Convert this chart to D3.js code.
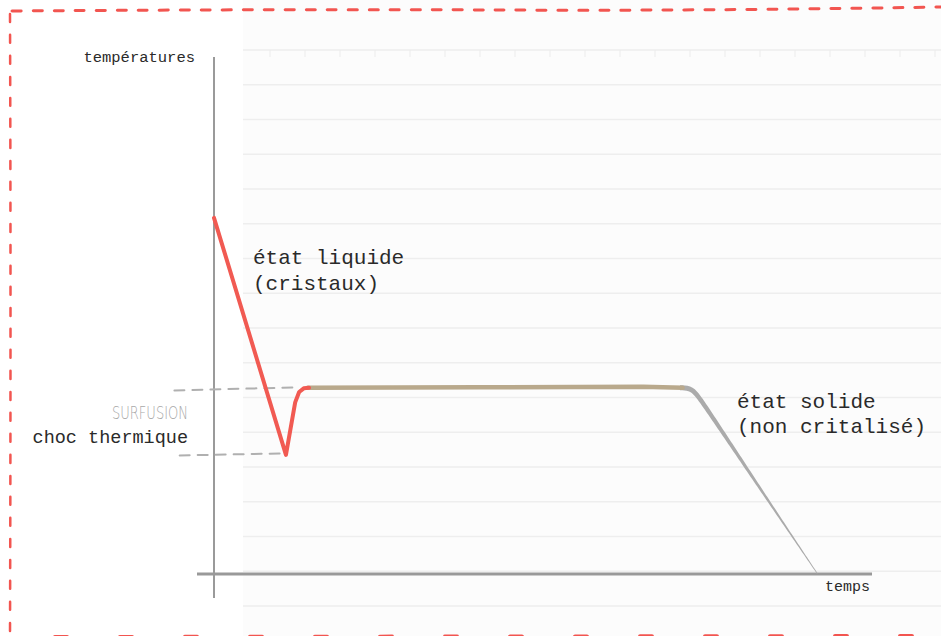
<!DOCTYPE html>
<html>
<head>
<meta charset="utf-8">
<script src="https://cdn.jsdelivr.net/npm/d3@7"></script>
<style>
  body { margin: 0; background: #fff; }
  svg { display: block; }
  .mono { font-family: "Liberation Mono", "Courier New", monospace; fill: #2a2a2a; }
</style>
</head>
<body>
<svg id="chart" width="941" height="636"></svg>
<script>
// curve segments (time, temperature) - arbitrary units
var liquide = [[0, 68.5], [10.9, 22.9], [12.3, 33.0], [12.9, 35.0], [13.6, 35.7], [14.4, 35.8]];
var palier = [[14.2, 35.8], [40, 35.9], [65, 36.0], [71.0, 35.8]];
var solide = [[70.6, 35.8], [72.4, 35.8], [73.8, 33.5], [82.7, 16.5], [91.4, 0.1]];
// dashed guides (left edge -> curve point)
var guides = [[-6, 35.3], [-5.2, 22.8]];
var guideEnds = [[12.7, 35.9], [10.5, 23.2]];

var svg = d3.select("#chart");
var W = 941, H = 636;

var x = d3.scaleLinear().domain([0, 100]).range([214, 874]);
var y = d3.scaleLinear().domain([0, 100]).range([574, 54]);

// paper background
svg.append("rect").attr("x", 243).attr("y", 0).attr("width", W - 243).attr("height", H)
    .attr("fill", "#fcfcfc");
svg.selectAll(".rule")
    .data(d3.range(50, H, 34.75))
    .join("line")
    .attr("class", "rule")
    .attr("x1", 243).attr("x2", W)
    .attr("y1", d => d).attr("y2", d => d)
    .attr("stroke", "#eeeeee").attr("stroke-width", 1.5);
// little perforation ticks on the top rule
svg.selectAll(".perf")
    .data(d3.range(270, W, 35))
    .join("line")
    .attr("class", "perf")
    .attr("x1", d => d).attr("x2", d => d).attr("y1", 50).attr("y2", 57)
    .attr("stroke", "#ececec").attr("stroke-width", 1);

// red dashed frame
var frame = svg.append("g").attr("fill", "none").attr("stroke", "#f25550")
    .attr("stroke-linecap", "round");
frame.append("path").attr("d", "M12,11 Q300,9 500,10 T941,7")
    .attr("stroke-width", 3).attr("stroke-dasharray", "9 12");
frame.append("path").attr("d", "M10,14 Q11,300 10,636")
    .attr("stroke-width", 2.5).attr("stroke-dasharray", "8 13");
frame.append("path").attr("d", "M55,637 L941,636")
    .attr("stroke-width", 4).attr("stroke-dasharray", "12 53");

// axes
svg.append("line").attr("x1", x(0)).attr("x2", x(0)).attr("y1", 57).attr("y2", 598)
    .attr("stroke", "#9a9a9a").attr("stroke-width", 2);
svg.append("line").attr("x1", 197).attr("x2", 872).attr("y1", y(0)).attr("y2", y(0))
    .attr("stroke", "#999").attr("stroke-width", 3);

// guide dashes
svg.selectAll(".guide")
    .data(guides)
    .join("line")
    .attr("class", "guide")
    .attr("x1", d => x(d[0])).attr("y1", d => y(d[1]))
    .attr("x2", (d, i) => x(guideEnds[i][0])).attr("y2", (d, i) => y(guideEnds[i][1]))
    .attr("stroke", "#b0b0b0").attr("stroke-width", 2)
    .attr("stroke-dasharray", "10 8").attr("stroke-linecap", "round");

var line = d3.line().x(d => x(d[0])).y(d => y(d[1]));

// solid state: tapered grey stroke, sampled from a b-spline through the points
var guidePath = svg.append("path").datum(solide)
    .attr("d", line.curve(d3.curveBasis)).attr("fill", "none").attr("stroke", "none");
line.curve(d3.curveLinear);
var node = guidePath.node(), total = node.getTotalLength();
var pts = d3.range(0, 1.0001, 0.01).map(function(t) {
    var p = node.getPointAtLength(t * total);
    return [p.x, p.y, t];
});
var w0 = 5, w1 = 0.8;
var left = [], right = [];
pts.forEach(function(p, i) {
    var a = pts[Math.max(i - 1, 0)], b = pts[Math.min(i + 1, pts.length - 1)];
    var dx = b[0] - a[0], dy = b[1] - a[1], L = Math.hypot(dx, dy);
    var nx = -dy / L, ny = dx / L;
    var w = (w0 + (w1 - w0) * p[2]) / 2;
    left.push([p[0] + nx * w, p[1] + ny * w]);
    right.push([p[0] - nx * w, p[1] - ny * w]);
});
svg.append("path")
    .attr("d", d3.line()(left.concat(right.reverse())) + "Z")
    .attr("fill", "#ababab");

svg.append("path").datum(palier).attr("d", line)
    .attr("fill", "none").attr("stroke", "#b9a98c").attr("stroke-width", 4.5)
    .attr("stroke-linecap", "round");

svg.append("path").datum(liquide).attr("d", line)
    .attr("fill", "none").attr("stroke", "#f15a52").attr("stroke-width", 4)
    .attr("stroke-linejoin", "round").attr("stroke-linecap", "round");

// labels
svg.append("text").attr("class", "mono").attr("x", 195).attr("y", 62)
    .attr("text-anchor", "end").style("font-size", "15.5px").text("températures");
svg.append("text").attr("class", "mono").attr("x", 825).attr("y", 591)
    .style("font-size", "15px").text("temps");

svg.append("text").attr("class", "mono").attr("x", 253).attr("y", 264)
    .style("font-size", "21px").text("état liquide");
svg.append("text").attr("class", "mono").attr("x", 253).attr("y", 290)
    .style("font-size", "21px").text("(cristaux)");

svg.append("text").attr("class", "mono").attr("x", 737).attr("y", 408)
    .style("font-size", "21px").text("état solide");
svg.append("text").attr("class", "mono").attr("x", 737).attr("y", 433)
    .style("font-size", "21px").text("(non critalisé)");

svg.append("text").attr("x", 188).attr("y", 419).attr("text-anchor", "end")
    .attr("textLength", 76).attr("lengthAdjust", "spacingAndGlyphs")
    .style("font-family", "'DejaVu Sans', sans-serif").style("font-weight", 200)
    .style("font-size", "18px").style("fill", "#a8a8a8").text("SURFUSION");
svg.append("text").attr("class", "mono").attr("x", 188).attr("y", 443)
    .attr("text-anchor", "end").style("font-size", "18.5px").text("choc thermique");
</script>
</body>
</html>
